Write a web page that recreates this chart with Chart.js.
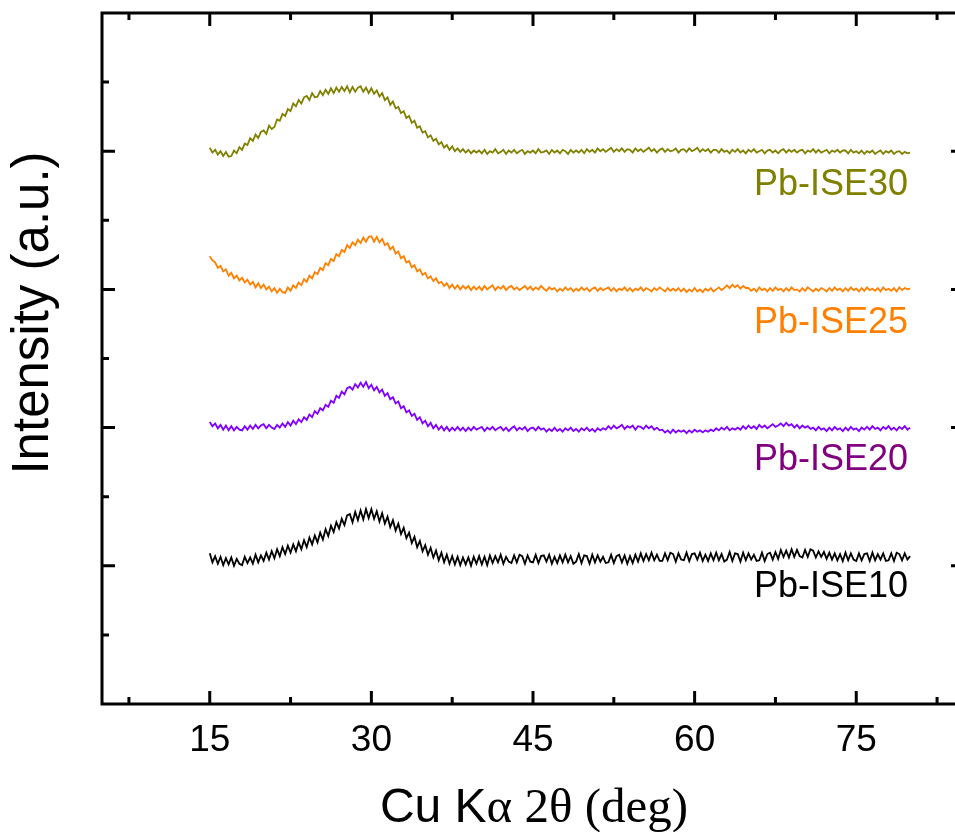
<!DOCTYPE html>
<html>
<head>
<meta charset="utf-8">
<script src="https://cdn.jsdelivr.net/npm/chart.js@4.4.1/dist/chart.umd.min.js"></script>
<style>
  html, body { margin: 0; padding: 0; background: #fff; overflow: hidden; }
  canvas { display: block; }
</style>
</head>
<body>
<canvas id="xrd" width="975" height="832"></canvas>
<script>
// scans run 15-80 deg in 0.25 deg steps
const thetaStart = 15;
const thetaStep = 0.25;

// stacked intensities (a.u.), one value per step
const ise30 = [
  8.05, 7.98, 8.02, 7.95, 8.00, 7.93, 7.99, 7.92, 7.93, 8.01, 7.97, 8.06, 8.02, 8.11, 8.09, 8.19, 8.15, 8.24, 8.19, 8.28,
  8.30, 8.25, 8.37, 8.32, 8.35, 8.46, 8.44, 8.54, 8.51, 8.61, 8.58, 8.69, 8.65, 8.74, 8.69, 8.78, 8.80, 8.74, 8.84, 8.78,
  8.79, 8.87, 8.81, 8.89, 8.83, 8.91, 8.84, 8.92, 8.86, 8.93, 8.87, 8.94, 8.85, 8.93, 8.86, 8.92, 8.94, 8.86, 8.92, 8.84,
  8.91, 8.83, 8.88, 8.79, 8.84, 8.74, 8.78, 8.67, 8.72, 8.62, 8.64, 8.55, 8.58, 8.48, 8.51, 8.41, 8.44, 8.34, 8.36, 8.27,
  8.29, 8.20, 8.23, 8.15, 8.18, 8.10, 8.13, 8.05, 8.09, 8.02, 8.07, 8.00, 8.04, 7.99, 8.03, 7.98, 8.02, 7.97, 8.01, 7.98,
  8.01, 7.97, 8.02, 7.96, 8.00, 7.98, 8.03, 7.97, 7.99, 8.02, 7.96, 8.01, 7.98, 8.02, 7.97, 8.00, 8.02, 7.96, 8.00, 7.98,
  8.01, 7.97, 8.03, 7.98, 7.99, 8.01, 7.96, 8.02, 7.98, 8.01, 7.97, 8.02, 8.00, 7.96, 8.02, 7.98, 8.01, 7.98, 8.02, 7.97,
  8.03, 7.99, 8.02, 7.98, 8.04, 8.00, 8.03, 7.99, 8.02, 8.05, 7.99, 8.03, 8.00, 8.04, 7.99, 8.03, 8.02, 7.98, 8.04, 8.00,
  8.03, 7.99, 8.02, 8.05, 8.00, 8.03, 7.98, 8.02, 8.04, 7.99, 8.03, 8.00, 8.01, 8.04, 7.98, 8.02, 8.03, 7.99, 8.04, 8.00,
  8.02, 8.05, 7.99, 8.03, 8.00, 8.03, 7.98, 8.02, 8.02, 7.98, 8.03, 7.99, 8.01, 7.97, 8.02, 7.99, 8.03, 7.98, 8.01, 7.97,
  8.02, 7.99, 8.03, 7.98, 8.00, 8.02, 7.97, 8.01, 8.02, 7.98, 8.01, 7.97, 8.01, 8.03, 7.98, 8.02, 7.99, 8.02, 7.98, 8.01,
  8.02, 7.97, 8.01, 7.99, 8.03, 7.98, 8.02, 7.98, 8.00, 8.02, 7.97, 8.01, 7.99, 8.02, 7.98, 8.01, 8.01, 7.97, 8.02, 7.98,
  8.00, 7.97, 8.01, 7.96, 8.00, 7.98, 8.01, 7.96, 7.99, 8.01, 7.96, 8.00, 7.98, 8.01, 7.96, 7.99, 8.00, 7.96, 7.99, 7.97,
  7.98
];

const ise25 = [
  6.48, 6.42, 6.39, 6.31, 6.34, 6.26, 6.29, 6.20, 6.24, 6.16, 6.20, 6.13, 6.17, 6.10, 6.14, 6.07, 6.11, 6.03, 6.09, 6.02,
  6.07, 6.00, 6.04, 5.97, 6.02, 5.95, 6.01, 5.96, 5.95, 6.03, 5.98, 6.06, 6.02, 6.10, 6.06, 6.15, 6.11, 6.20, 6.16, 6.25,
  6.22, 6.31, 6.28, 6.38, 6.35, 6.44, 6.41, 6.51, 6.48, 6.57, 6.54, 6.64, 6.60, 6.68, 6.64, 6.72, 6.67, 6.75, 6.69, 6.76,
  6.77, 6.69, 6.76, 6.68, 6.73, 6.64, 6.67, 6.58, 6.62, 6.52, 6.55, 6.45, 6.48, 6.39, 6.41, 6.32, 6.35, 6.26, 6.29, 6.21,
  6.24, 6.16, 6.19, 6.12, 6.16, 6.09, 6.11, 6.05, 6.09, 6.02, 6.07, 6.01, 6.06, 6.00, 6.05, 6.01, 6.05, 5.99, 6.04, 6.00,
  6.04, 5.99, 6.05, 6.00, 6.03, 6.06, 5.99, 6.04, 6.01, 6.05, 5.99, 6.03, 6.05, 6.00, 6.03, 5.99, 6.02, 6.05, 6.00, 6.04,
  5.99, 6.03, 6.00, 6.05, 6.01, 5.98, 6.03, 6.00, 6.02, 5.97, 6.01, 5.98, 6.03, 5.99, 6.02, 5.97, 6.01, 5.98, 6.03, 5.99,
  6.02, 5.97, 6.01, 6.03, 5.98, 6.02, 5.99, 6.01, 6.03, 5.98, 6.02, 5.97, 6.01, 5.99, 6.03, 5.98, 6.02, 5.97, 6.01, 5.99,
  6.03, 5.98, 6.02, 6.00, 5.97, 6.02, 5.99, 6.03, 6.00, 5.97, 6.02, 5.98, 6.01, 5.98, 6.02, 5.97, 6.01, 5.96, 6.00, 5.97,
  6.02, 5.97, 6.00, 5.96, 6.01, 5.98, 6.02, 5.97, 6.00, 6.03, 5.99, 6.02, 6.06, 6.02, 6.07, 6.03, 6.06, 6.01, 6.05, 6.02,
  6.02, 5.98, 6.01, 5.97, 6.03, 5.99, 6.01, 5.97, 6.02, 5.98, 6.03, 5.99, 6.01, 5.97, 6.02, 5.98, 6.03, 5.99, 6.00, 5.97,
  6.02, 5.98, 6.03, 6.00, 5.97, 6.01, 5.98, 6.02, 6.00, 5.97, 6.02, 5.98, 6.03, 5.99, 6.01, 5.97, 6.02, 5.98, 6.03, 5.99,
  6.01, 5.97, 6.02, 5.98, 6.03, 5.99, 6.01, 5.98, 6.02, 5.97, 6.03, 5.99, 6.01, 5.98, 6.02, 5.97, 6.03, 5.99, 6.02, 6.00,
  6.01
];

const ise20 = [
  4.08, 4.02, 4.06, 3.99, 4.04, 3.97, 4.03, 3.96, 4.02, 3.96, 4.01, 3.97, 3.96, 4.02, 3.97, 4.03, 3.98, 4.04, 3.99, 4.03,
  4.05, 3.99, 4.04, 4.00, 3.98, 4.04, 4.00, 4.06, 4.01, 4.08, 4.03, 4.10, 4.05, 4.12, 4.08, 4.15, 4.11, 4.19, 4.15, 4.24,
  4.20, 4.28, 4.25, 4.33, 4.30, 4.39, 4.36, 4.46, 4.43, 4.52, 4.48, 4.57, 4.59, 4.55, 4.63, 4.58, 4.65, 4.59, 4.66, 4.57,
  4.62, 4.54, 4.59, 4.51, 4.55, 4.46, 4.50, 4.41, 4.44, 4.35, 4.38, 4.28, 4.31, 4.22, 4.25, 4.17, 4.20, 4.11, 4.15, 4.06,
  4.10, 4.02, 4.07, 3.99, 4.04, 3.97, 4.02, 3.96, 4.01, 3.95, 4.00, 3.96, 4.01, 3.96, 4.00, 3.95, 4.00, 3.96, 4.01, 3.97,
  3.99, 4.01, 3.95, 4.00, 3.97, 4.01, 3.96, 3.99, 4.01, 3.96, 4.00, 3.95, 3.99, 4.02, 3.96, 4.00, 3.97, 4.01, 3.95, 3.99,
  4.00, 3.96, 4.01, 3.97, 3.99, 3.94, 3.98, 3.95, 4.00, 3.95, 3.98, 3.94, 3.99, 3.96, 4.00, 3.95, 3.98, 3.94, 3.99, 3.96,
  4.00, 3.95, 3.98, 3.94, 3.99, 3.96, 3.99, 3.97, 4.02, 3.98, 4.03, 3.99, 4.01, 4.04, 3.98, 4.02, 4.00, 4.03, 3.97, 4.02,
  4.01, 3.98, 4.03, 3.99, 4.02, 3.97, 4.00, 3.96, 3.97, 3.93, 3.96, 3.92, 3.97, 3.93, 3.96, 3.94, 3.96, 3.92, 3.96, 3.93,
  3.97, 3.94, 3.96, 3.93, 3.96, 3.94, 3.97, 3.95, 3.99, 3.96, 4.00, 3.97, 4.01, 3.96, 3.99, 3.97, 4.00, 3.97, 4.02, 3.98,
  4.03, 3.99, 4.02, 3.98, 4.04, 4.00, 4.03, 3.99, 4.02, 4.05, 4.01, 4.03, 4.06, 4.02, 4.07, 4.03, 4.05, 4.00, 4.04, 3.99,
  4.03, 4.00, 4.02, 3.98, 4.00, 3.96, 4.01, 3.97, 3.99, 3.95, 4.00, 3.96, 4.01, 3.97, 3.99, 3.95, 4.00, 3.96, 4.01, 3.97,
  3.99, 3.95, 4.00, 3.97, 4.01, 3.97, 4.02, 3.98, 4.00, 3.96, 4.01, 3.98, 4.02, 3.97, 4.00, 3.96, 4.01, 3.98, 4.02, 3.97,
  4.00
];

const ise10 = [
  2.18, 2.05, 2.14, 2.03, 2.13, 2.01, 2.11, 2.02, 2.12, 2.00, 2.10, 2.03, 2.01, 2.13, 2.04, 2.12, 2.03, 2.16, 2.05, 2.15,
  2.07, 2.19, 2.09, 2.21, 2.11, 2.24, 2.14, 2.27, 2.17, 2.29, 2.19, 2.31, 2.21, 2.34, 2.24, 2.37, 2.27, 2.41, 2.31, 2.44,
  2.34, 2.48, 2.38, 2.53, 2.43, 2.58, 2.49, 2.63, 2.54, 2.68, 2.59, 2.73, 2.75, 2.63, 2.78, 2.66, 2.80, 2.67, 2.82, 2.69,
  2.82, 2.68, 2.79, 2.64, 2.76, 2.61, 2.71, 2.56, 2.66, 2.51, 2.61, 2.46, 2.55, 2.40, 2.48, 2.33, 2.42, 2.27, 2.36, 2.21,
  2.30, 2.16, 2.26, 2.12, 2.22, 2.08, 2.19, 2.05, 2.16, 2.03, 2.14, 2.02, 2.13, 2.01, 2.12, 2.02, 2.12, 2.00, 2.13, 2.03,
  2.14, 2.02, 2.13, 2.01, 2.15, 2.04, 2.14, 2.05, 2.16, 2.03, 2.13, 2.06, 2.04, 2.15, 2.05, 2.16, 2.14, 2.03, 2.15, 2.06,
  2.05, 2.16, 2.04, 2.14, 2.15, 2.06, 2.16, 2.03, 2.13, 2.04, 2.15, 2.05, 2.16, 2.05, 2.14, 2.03, 2.06, 2.17, 2.04, 2.15,
  2.14, 2.03, 2.16, 2.05, 2.15, 2.06, 2.13, 2.04, 2.05, 2.16, 2.04, 2.14, 2.16, 2.05, 2.15, 2.03, 2.14, 2.04, 2.16, 2.06,
  2.18, 2.07, 2.17, 2.08, 2.19, 2.08, 2.16, 2.07, 2.07, 2.18, 2.08, 2.19, 2.17, 2.06, 2.18, 2.09, 2.08, 2.19, 2.07, 2.17,
  2.18, 2.09, 2.19, 2.07, 2.16, 2.07, 2.18, 2.08, 2.19, 2.08, 2.17, 2.06, 2.09, 2.20, 2.07, 2.18, 2.17, 2.06, 2.19, 2.08,
  2.18, 2.09, 2.16, 2.07, 2.08, 2.19, 2.07, 2.17, 2.19, 2.09, 2.20, 2.10, 2.23, 2.13, 2.22, 2.12, 2.24, 2.13, 2.23, 2.14,
  2.12, 2.23, 2.13, 2.24, 2.22, 2.12, 2.21, 2.13, 2.20, 2.10, 2.19, 2.09, 2.18, 2.08, 2.17, 2.07, 2.19, 2.08, 2.18, 2.09,
  2.07, 2.18, 2.08, 2.17, 2.18, 2.07, 2.19, 2.08, 2.17, 2.09, 2.18, 2.07, 2.08, 2.18, 2.07, 2.19, 2.17, 2.08, 2.18, 2.09,
  2.14
];

const seriesNames = ['Pb-ISE10', 'Pb-ISE20', 'Pb-ISE25', 'Pb-ISE30'];
const seriesData = [ise10, ise20, ise25, ise30];
const lineColors = ['#000000', '#8000ff', '#ff8000', '#808000'];
const labelColors = ['#000000', '#800080', '#ff8000', '#808000'];
const labelY = [1.55, 3.39, 5.37, 7.37];

const xTickValues = [15, 30, 45, 60, 75];
const xMinorValues = [7.5, 22.5, 37.5, 52.5, 67.5, 82.5];
const yMajorValues = [2, 4, 6, 8];
const yMinorValues = [1, 3, 5, 7, 9];

const sans = '"Liberation Sans", Arial, sans-serif';
const serif = '"Liberation Serif", "Times New Roman", serif';

const toPoints = (arr) => arr.map((v, i) => ({ x: thetaStart + i * thetaStep, y: v }));

// frame with inward ticks, tick labels, axis titles and curve labels
const framePlugin = {
    id: 'frame',
    afterDatasetsDraw(chart) {
        const { ctx, chartArea: a, scales } = chart;
        const xs = scales.x, ys = scales.y;
        ctx.save();
        ctx.strokeStyle = '#000';
        ctx.lineWidth = 3;
        ctx.strokeRect(a.left, a.top, a.right - a.left, a.bottom - a.top);

        const xTick = (v, len) => {
            const px = xs.getPixelForValue(v);
            ctx.beginPath();
            ctx.moveTo(px, a.bottom); ctx.lineTo(px, a.bottom - len);
            ctx.moveTo(px, a.top); ctx.lineTo(px, a.top + len);
            ctx.stroke();
        };
        const yTick = (v, len) => {
            const py = ys.getPixelForValue(v);
            ctx.beginPath();
            ctx.moveTo(a.left, py); ctx.lineTo(a.left + len, py);
            ctx.moveTo(a.right, py); ctx.lineTo(a.right - len, py);
            ctx.stroke();
        };
        xTickValues.forEach(v => xTick(v, 13));
        xMinorValues.forEach(v => xTick(v, 7));
        yMajorValues.forEach(v => yTick(v, 13));
        yMinorValues.forEach(v => yTick(v, 7));

        // x tick labels
        ctx.fillStyle = '#000';
        ctx.font = '37px ' + sans;
        ctx.textAlign = 'center';
        ctx.textBaseline = 'alphabetic';
        xTickValues.forEach(v => ctx.fillText(String(v), xs.getPixelForValue(v), a.bottom + 47));

        // curve labels, right aligned near the end of the scans
        ctx.font = '36px ' + sans;
        ctx.textAlign = 'right';
        seriesNames.forEach((name, i) => {
            ctx.fillStyle = labelColors[i];
            ctx.fillText(name, xs.getPixelForValue(79.8), ys.getPixelForValue(labelY[i]));
        });

        // y title
        ctx.fillStyle = '#000';
        ctx.save();
        ctx.translate(48, 313);
        ctx.rotate(-Math.PI / 2);
        ctx.textAlign = 'center';
        ctx.font = '51px ' + sans;
        ctx.fillText('Intensity (a.u.)', 0, 0);
        ctx.restore();

        // x title: sans "Cu K", greek and unit in serif
        const parts = [
            { text: 'Cu K', font: '48px ' + sans },
            { text: 'α 2θ (deg)', font: '49px ' + serif }
        ];
        let total = 0;
        parts.forEach(p => { ctx.font = p.font; p.w = ctx.measureText(p.text).width; total += p.w; });
        let cx = 534 - total / 2;
        ctx.textAlign = 'left';
        parts.forEach(p => {
            ctx.font = p.font;
            ctx.fillText(p.text, cx, 822);
            cx += p.w;
        });
        ctx.restore();
    }
};

new Chart(document.getElementById('xrd'), {
    type: 'line',
    data: {
        datasets: seriesData.map((arr, i) => ({
            label: seriesNames[i],
            data: toPoints(arr),
            borderColor: lineColors[i],
            borderWidth: 1.8,
            borderJoinStyle: 'miter',
            pointRadius: 0,
            tension: 0,
            fill: false
        }))
    },
    options: {
        responsive: false,
        animation: false,
        devicePixelRatio: 1,
        layout: { padding: { left: 102, right: 11, top: 13, bottom: 128 } },
        scales: {
            x: { type: 'linear', min: 5, max: 85, display: false },
            y: { min: 0, max: 10, display: false }
        },
        plugins: { legend: { display: false }, tooltip: { enabled: false } }
    },
    plugins: [framePlugin]
});
</script>
</body>
</html>
